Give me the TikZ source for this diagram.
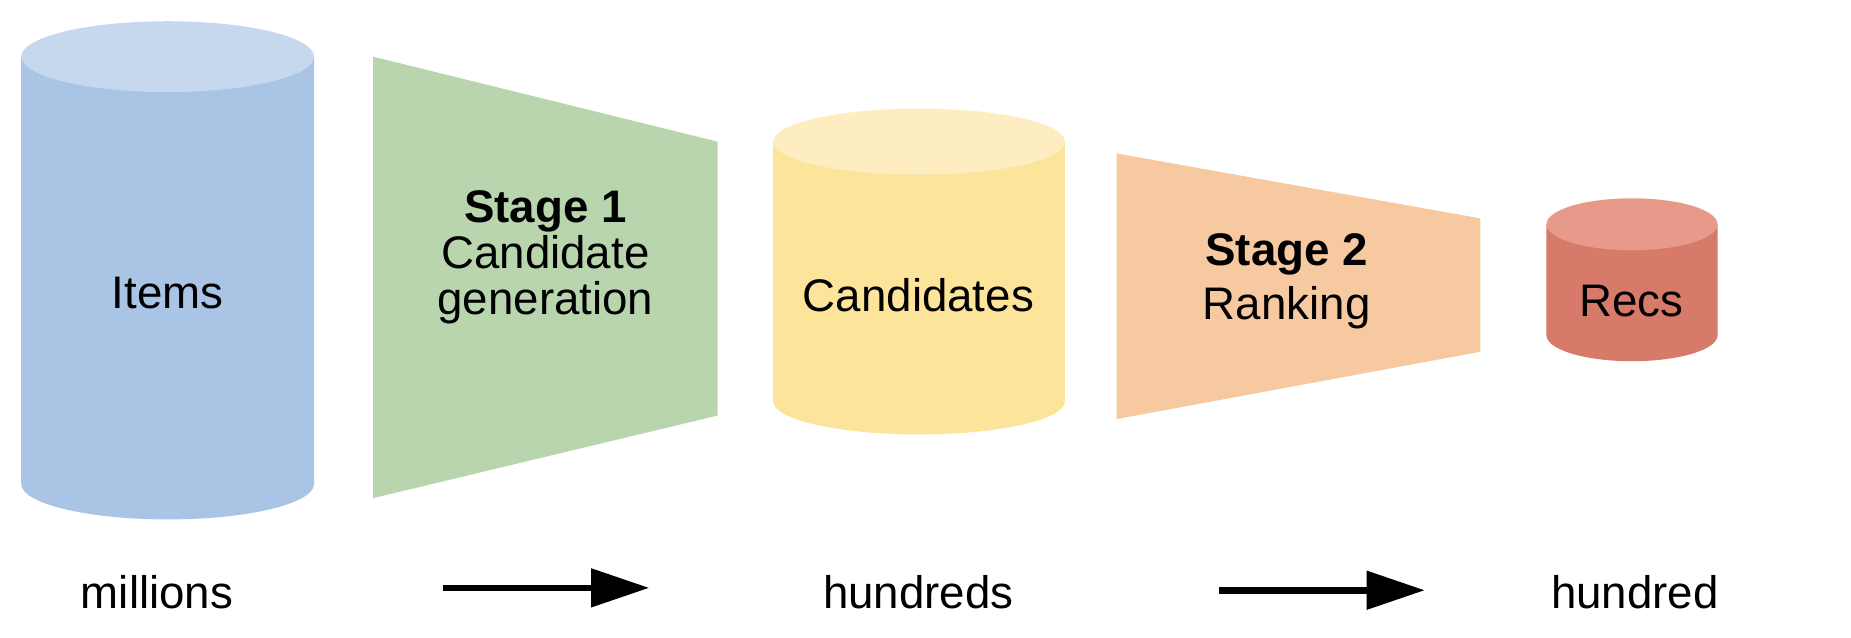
\documentclass[tikz,border=0pt]{standalone}
\usepackage{fontspec}
\setmainfont{Liberation Sans}
\usetikzlibrary{arrows.meta}
\begin{document}
\begin{tikzpicture}[x=0.01cm,y=-0.01cm,
  lbl/.style={font=\fontsize{11}{13}\selectfont,align=center,inner sep=0pt},
  arr/.style={-{Triangle[length=14pt,width=9pt]},line width=1.6pt}]
\useasboundingbox (0,0) rectangle (1568,540);
% Items
\fill[fill={rgb,255:red,169;green,196;blue,228}] (18,48) -- (18,410) arc[start angle=180,end angle=360,x radius=124,y radius=-30] -- (266,48) -- cycle;
\fill[fill={rgb,255:red,197;green,216;blue,238}] (142,48) ellipse[x radius=124,y radius=30];
\node[lbl] (items) at (142,248) {Items};
% Stage 1
\fill[fill={rgb,255:red,185;green,213;blue,174}] (316,48) -- (608,120) -- (608,352) -- (316,422) -- cycle;
\node[lbl] (s1) at (462,218) {\textbf{Stage 1}\\[-2pt]Candidate\\[-2pt]generation};
% Candidates
\fill[fill={rgb,255:red,252;green,228;blue,154}] (655,120) -- (655,340) arc[start angle=180,end angle=360,x radius=123.5,y radius=-28] -- (902,120) -- cycle;
\fill[fill={rgb,255:red,253;green,237;blue,192}] (778.5,120) ellipse[x radius=123.5,y radius=28];
\node[lbl] (cand) at (778,250) {Candidates};
% Stage 2
\fill[fill={rgb,255:red,246;green,201;blue,160}] (946,130) -- (1254,185) -- (1254,298) -- (946,355) -- cycle;
\node[lbl] (s2) at (1090,238) {\textbf{Stage 2}\\Ranking};
% Recs
\fill[fill={rgb,255:red,216;green,122;blue,106}] (1310,190) -- (1310,284) arc[start angle=180,end angle=360,x radius=72.5,y radius=-22] -- (1455,190) -- cycle;
\fill[fill={rgb,255:red,231;green,154;blue,138}] (1382.5,190) ellipse[x radius=72.5,y radius=22];
\node[lbl] (recs) at (1382,255) {Recs};
% bottom
\node[lbl] (m) at (133,502) {millions};
\node[lbl] (h) at (778,502) {hundreds};
\node[lbl] (hd) at (1385,502) {hundred};
\coordinate (a1s) at (375,498); \coordinate (a1e) at (550,498);
\coordinate (a2s) at (1033,500); \coordinate (a2e) at (1207,500);
\draw[arr] (a1s) -- (a1e);
\draw[arr] (a2s) -- (a2e);
\end{tikzpicture}
\end{document}
